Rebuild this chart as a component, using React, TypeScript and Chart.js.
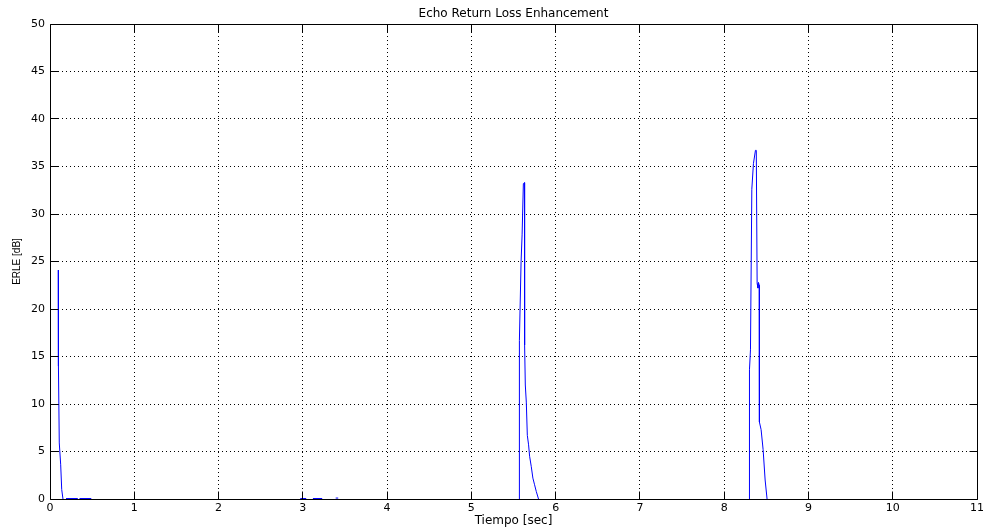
import React, { useEffect, useRef } from "react";
import { Chart, registerables } from "chart.js";

Chart.register(...registerables);

const TITLE = "Echo Return Loss Enhancement";
const X_LABEL = "Tiempo [sec]";
const Y_LABEL = "ERLE [dB]";
const X_TICKS = [0, 1, 2, 3, 4, 5, 6, 7, 8, 9, 10, 11];
const Y_TICKS = [0, 5, 10, 15, 20, 25, 30, 35, 40, 45, 50];

// Time (sec) and ERLE (dB); null values break the trace (values below the axis)
const times = [
  0.098, 0.1, 0.11, 0.127, 0.139, 0.154, 0.16,
  0.19, 0.33, 0.34, 0.35, 0.49, 0.5,
  2.97, 3.04, 3.08, 3.12, 3.23, 3.3, 3.39, 3.42, 3.45,
  5.57, 5.57, 5.59, 5.602, 5.617, 5.63, 5.632, 5.64, 5.652, 5.664, 5.679, 5.691,
  5.711, 5.73, 5.75, 5.77, 5.797, 5.81,
  8.3, 8.3, 8.312, 8.328, 8.347, 8.371, 8.381, 8.391, 8.401, 8.407, 8.416, 8.418,
  8.438, 8.462, 8.486, 8.509, 8.52,
];
const erle = [
  24.1, 14.0, 5.9, 3.6, 1.0, 0.0, null,
  0.05, 0.05, null, 0.05, 0.05, null,
  0.05, 0.05, null, 0.05, 0.05, null, 0.1, 0.1, null,
  0.0, 16.7, 25.0, 27.8, 33.2, 33.3, 16.2, 12.0, 10.2, 6.7, 5.7, 4.5,
  3.4, 2.2, 1.5, 0.8, 0.0, null,
  0.0, 13.6, 15.7, 32.6, 35.3, 36.7, 36.7, 22.7, 22.2, 22.8, 22.5, 8.1,
  7.3, 5.2, 2.0, 0.0, null,
];

const FONT = "'DejaVu Sans', sans-serif";

const matlabPlugin = {
  id: "matlabFrame",
  beforeDatasetsDraw(chart: any) {
    const { ctx, chartArea, scales } = chart;
    const { left, right, top, bottom } = chartArea;
    const x = scales.x;
    const y = scales.y;
    ctx.save();
    ctx.strokeStyle = "#000";
    ctx.lineWidth = 1;
    ctx.setLineDash([1, 3]);
    ctx.beginPath();
    X_TICKS.forEach((v) => {
      if (v === x.min || v === x.max) return;
      const px = Math.floor(x.getPixelForValue(v)) + 0.5;
      ctx.moveTo(px, top);
      ctx.lineTo(px, bottom);
    });
    Y_TICKS.forEach((v) => {
      if (v === y.min || v === y.max) return;
      const py = Math.floor(y.getPixelForValue(v)) + 0.5;
      ctx.moveTo(left, py);
      ctx.lineTo(right, py);
    });
    ctx.stroke();
    ctx.restore();
  },
  afterDatasetsDraw(chart: any) {
    const { ctx, chartArea, scales } = chart;
    const x = scales.x;
    const y = scales.y;
    const l = Math.floor(chartArea.left) + 0.5;
    const r = Math.floor(chartArea.right) + 0.5;
    const t = Math.floor(chartArea.top) + 0.5;
    const b = Math.floor(chartArea.bottom) + 0.5;
    const tl = 8;
    ctx.save();
    ctx.strokeStyle = "#000";
    ctx.lineWidth = 1;
    ctx.setLineDash([]);
    ctx.beginPath();
    ctx.moveTo(l, t);
    ctx.lineTo(r, t);
    ctx.lineTo(r, b);
    ctx.lineTo(l, b);
    ctx.closePath();
    X_TICKS.forEach((v) => {
      const px = Math.floor(x.getPixelForValue(v)) + 0.5;
      ctx.moveTo(px, b);
      ctx.lineTo(px, b - tl);
      ctx.moveTo(px, t);
      ctx.lineTo(px, t + tl);
    });
    Y_TICKS.forEach((v) => {
      const py = Math.floor(y.getPixelForValue(v)) + 0.5;
      ctx.moveTo(l, py);
      ctx.lineTo(l + tl, py);
      ctx.moveTo(r, py);
      ctx.lineTo(r - tl, py);
    });
    ctx.stroke();

    ctx.fillStyle = "#000";
    ctx.font = `12px ${FONT}`;
    ctx.textAlign = "center";
    ctx.textBaseline = "middle";
    ctx.fillText(TITLE, (chartArea.left + chartArea.right) / 2, 14);
    ctx.restore();
  },
};

export default function App() {
  const canvasRef = useRef<HTMLCanvasElement | null>(null);

  useEffect(() => {
    const canvas = canvasRef.current;
    if (!canvas) return;
    const points = times.map((t, i) => ({ x: t, y: erle[i] }));
    const chart = new Chart(canvas, {
      type: "line",
      data: {
        datasets: [
          {
            data: points as any,
            borderColor: "#0000ff",
            borderWidth: 1,
            pointRadius: 0,
            tension: 0,
            spanGaps: false,
            fill: false,
          },
        ],
      },
      options: {
        responsive: false,
        animation: false,
        devicePixelRatio: 1,
        layout: { padding: { top: 24, right: 8, left: 0, bottom: 0 } },
        plugins: {
          legend: { display: false },
          tooltip: { enabled: false },
          title: { display: false },
        },
        scales: {
          x: {
            type: "linear",
            min: 0,
            max: 11,
            afterFit: (s: any) => {
              s.height = 32;
            },
            afterBuildTicks: (s: any) => {
              s.ticks = X_TICKS.map((v) => ({ value: v }));
            },
            ticks: {
              color: "#000",
              font: { family: FONT, size: 11 },
              padding: 3,
              maxRotation: 0,
              autoSkip: false,
            },
            grid: { display: false, drawTicks: false },
            border: { display: false },
            title: {
              display: true,
              text: X_LABEL,
              color: "#000",
              font: { family: FONT, size: 12 },
              padding: { top: 0, bottom: 3 },
            },
          },
          y: {
            type: "linear",
            min: 0,
            max: 50,
            afterFit: (s: any) => {
              s.width = 50;
            },
            afterBuildTicks: (s: any) => {
              s.ticks = Y_TICKS.map((v) => ({ value: v }));
            },
            ticks: {
              color: "#000",
              font: { family: FONT, size: 11 },
              padding: 5,
              autoSkip: false,
            },
            grid: { display: false, drawTicks: false },
            border: { display: false },
            title: {
              display: true,
              text: Y_LABEL,
              color: "#000",
              font: { family: "'Liberation Sans', Arial, sans-serif", size: 10 },
              padding: { top: 11, bottom: 0 },
            },
          },
        },
      },
      plugins: [matlabPlugin],
    });
    return () => chart.destroy();
  }, []);

  return (
    <div style={{ position: "fixed", left: 0, top: 0, width: 987, height: 531, background: "#fff" }}>
      <canvas ref={canvasRef} width={987} height={531} style={{ width: 987, height: 531, display: "block" }} />
    </div>
  );
}
